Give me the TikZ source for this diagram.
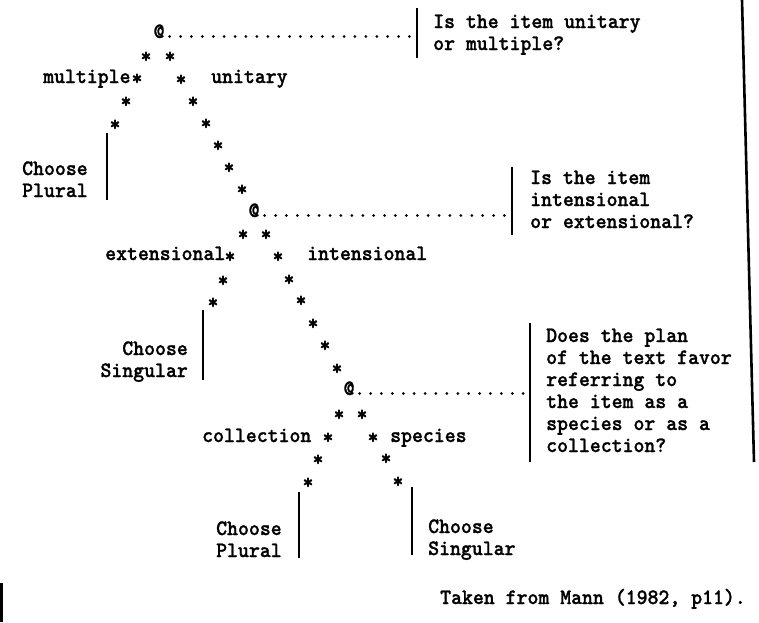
\documentclass[tikz,border=0pt]{standalone}
\usepackage{fontspec}
\newfontfamily\twfont{lmmonolt10-bold.otf}[FakeBold=1.1, FakeStretch=0.945]
\newcommand\typefont{\fontsize{22}{22}\selectfont\twfont}
\begin{document}
\begin{tikzpicture}[x=1pt,y=-1pt,
  lbl/.style={font=\typefont, inner sep=0pt, anchor=base west, align=left},
  lblr/.style={font=\typefont, inner sep=0pt, anchor=base east, align=right},
  starn/.style={font=\typefont, inner sep=0pt, anchor=base, yshift=-8pt},
  atn/.style={font=\typefont, inner sep=0pt, anchor=base},
  dots/.style={line width=3pt, line cap=round, dash pattern=on 0pt off 10.9pt, shorten >=6pt, shorten <=5pt},
  bar/.style={line width=2pt},
  border/.style={line width=2.6pt}
]
\useasboundingbox (0,0) rectangle (759,622);

% ---------- tree 1 ----------
\node[atn] (q1) at (159,38) {@};
\coordinate (b1a) at (417,8); \coordinate (b1b) at (417,58);
\draw[bar] (b1a) -- (b1b);
\draw[dots] ([yshift=1.5pt]q1.base east) -- ([yshift=1.5pt]q1.base east -| b1a);
% multi-line nodes: base anchor = baseline of the last line
\node[lbl] (t1) at (433,50) {Is the item unitary\\or multiple?};
\node[starn] (s1l1) at (146,55) {*};
\node[starn] (s1r1) at (170,55) {*};
\node[starn] (s1l2) at (137,77) {*};
\node[starn] (s1r2) at (181,78) {*};
\node[starn] (s1l3) at (126,100) {*};
\node[starn] (s1r3) at (193,100) {*};
\node[starn] (s1l4) at (115,123) {*};
\node[starn] (s1r4) at (206,122) {*};
\node[starn] (s1r5) at (218,144) {*};
\node[starn] (s1r6) at (229,166) {*};
\node[starn] (s1r7) at (242,188) {*};
\node[lbl] (mult) at (43,83) {multiple};
\node[lbl] (unit) at (211,83) {unitary};
\coordinate (l1a) at (107,133); \coordinate (l1b) at (107,200);
\draw[bar] (l1a) -- (l1b);
\node[lbl] (c1) at (22,197) {Choose\\Plural};

% ---------- tree 2 ----------
\node[atn] (q2) at (254,217) {@};
\coordinate (b2a) at (512,167); \coordinate (b2b) at (512,235);
\draw[bar] (b2a) -- (b2b);
\draw[dots] ([yshift=1.5pt]q2.base east) -- ([yshift=1.5pt]q2.base east -| b2a);
\node[lbl] (t2) at (530,228) {Is the item\\intensional\\or extensional?};
\node[starn] (s2l1) at (243,233) {*};
\node[starn] (s2r1) at (266,233) {*};
\node[starn] (s2l2) at (230,255) {*};
\node[starn] (s2r2) at (278,255) {*};
\node[starn] (s2l3) at (223,279) {*};
\node[starn] (s2r3) at (289,278) {*};
\node[starn] (s2l4) at (213,301) {*};
\node[starn] (s2r4) at (301,299) {*};
\node[starn] (s2r5) at (313,322) {*};
\node[starn] (s2r6) at (325,344) {*};
\node[starn] (s2r7) at (337,367) {*};
\node[lbl] (ext) at (105,260) {extensional};
\node[lbl] (int) at (307,260) {intensional};
\coordinate (l2a) at (203,310); \coordinate (l2b) at (203,380);
\draw[bar] (l2a) -- (l2b);
\node[lblr] (c2) at (188,377) {Choose\\Singular};

% ---------- tree 3 ----------
\node[atn] (q3) at (349,395) {@};
\coordinate (b3a) at (530,323); \coordinate (b3b) at (530,462);
\draw[bar] (b3a) -- (b3b);
\draw[dots] ([yshift=1.5pt]q3.base east) -- ([yshift=1.5pt]q3.base east -| b3a);
\node[lbl] (t3) at (546,452) {Does the plan\\of the text favor\\referring to\\the item as a\\species or as a\\collection?};
\node[starn] (s3l1) at (339,413) {*};
\node[starn] (s3r1) at (362,413) {*};
\node[starn] (s3l2) at (328,436) {*};
\node[starn] (s3r2) at (373,436) {*};
\node[starn] (s3l3) at (318,458) {*};
\node[starn] (s3r3) at (386,457) {*};
\node[starn] (s3l4) at (308,481) {*};
\node[starn] (s3r4) at (398,480) {*};
\node[lbl] (coll) at (202,442) {collection};
\node[lbl] (spec) at (390,442) {species};
\coordinate (l3a) at (299,492); \coordinate (l3b) at (299,558);
\draw[bar] (l3a) -- (l3b);
\node[lbl] (c3) at (216,557) {Choose\\Plural};
\coordinate (r3a) at (412,487); \coordinate (r3b) at (412,555);
\draw[bar] (r3a) -- (r3b);
\node[lbl] (c4) at (428,555) {Choose\\Singular};

% ---------- footer and page edges ----------
\node[lbl] (src) at (440,604) {Taken from Mann (1982, p11).};
\coordinate (e1) at (742,0); \coordinate (e2) at (754,462);
\draw[border] (e1) -- (e2);
\coordinate (e3) at (1.5,583); \coordinate (e4) at (1.5,622);
\draw[border] (e3) -- (e4);
\end{tikzpicture}
\end{document}
